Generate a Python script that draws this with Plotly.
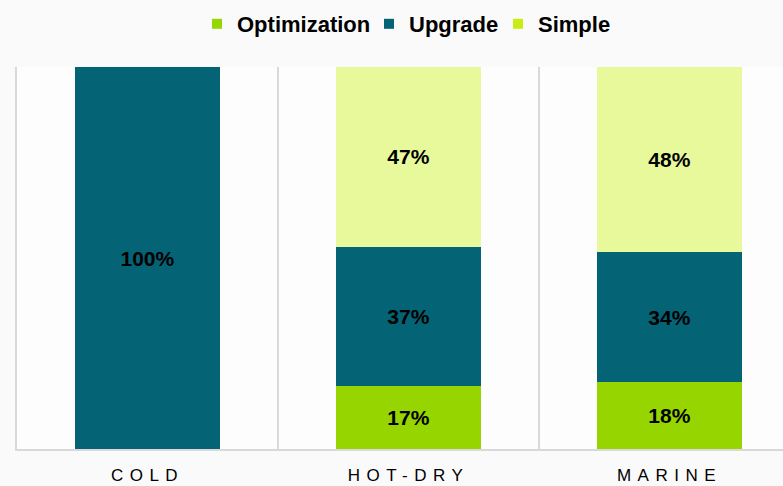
import plotly.graph_objects as go

categories = ["COLD", "HOT-DRY", "MARINE"]
tick_labels = ["COLD", "HOT-DRY", "MARINE"]
series_names = ["Optimization", "Upgrade", "Simple"]
optimization = [0, 16.5, 17.5]
upgrade = [100, 36.5, 34.0]
simple = [0, 47.0, 48.5]
optimization_labels = ["", "17%", "18%"]
upgrade_labels = ["100%", "37%", "34%"]
simple_labels = ["", "47%", "48%"]

bar_colors = {"Optimization": "#96D500", "Upgrade": "#056376", "Simple": "#E8F99B"}
legend_colors = {"Optimization": "#97D700", "Upgrade": "#056376", "Simple": "#C8EC14"}
legend_ids = {"Optimization": "legend", "Upgrade": "legend2", "Simple": "legend3"}
legend_x = {"Optimization": 197, "Upgrade": 369, "Simple": 498}

FONT = "Liberation Sans, Arial, sans-serif"

fig = go.Figure()
for name, vals, labels in [("Optimization", optimization, optimization_labels),
                           ("Upgrade", upgrade, upgrade_labels),
                           ("Simple", simple, simple_labels)]:
    fig.add_trace(go.Bar(
        x=categories, y=vals, name=name, text=labels,
        texttemplate="%{text}", textposition="inside", insidetextanchor="middle",
        textangle=0,
        insidetextfont=dict(family=FONT, size=21, color="#000000", weight="bold"),
        marker=dict(color=bar_colors[name], line=dict(width=0)),
        showlegend=False, hoverinfo="skip",
    ))

# legend entries with the swatch colours of the reference legend
for name in series_names:
    fig.add_trace(go.Scatter(
        x=[None], y=[None], name=name, mode="markers",
        marker=dict(color=legend_colors[name], symbol="square", size=10, line=dict(width=0)),
        showlegend=True, legend=legend_ids[name],
    ))

legend_common = dict(
    orientation="h", xref="container", xanchor="left",
    yref="container", y=1 - 24 / 486, yanchor="middle",
    font=dict(family=FONT, size=22, color="#000000", weight="bold"),
    itemclick=False, bgcolor="rgba(0,0,0,0)", borderwidth=0,
)

spaced = ['<span style="letter-spacing:6.5px">%s</span>' % t for t in tick_labels]

fig.update_layout(
    width=783, height=486,
    barmode="stack", bargap=0.444,
    margin=dict(l=17, r=0, t=67, b=37),
    paper_bgcolor="#FAFAFA", plot_bgcolor="#FDFDFD",
    font=dict(family=FONT, color="#000000"),
    legend=dict(x=legend_x["Optimization"] / 783, **legend_common),
    legend2=dict(x=legend_x["Upgrade"] / 783, **legend_common),
    legend3=dict(x=legend_x["Simple"] / 783, **legend_common),
    xaxis=dict(
        type="category", categoryorder="array", categoryarray=categories,
        tickmode="array", tickvals=categories, ticktext=spaced,
        range=[-0.5, 2.5 - 17 / 261],
        tickson="boundaries", ticks="",
        showgrid=True, gridcolor="#D9D9D9", gridwidth=1.5,
        showline=True, linecolor="#D9D9D9", linewidth=2,
        tickfont=dict(family=FONT, size=17, color="#000000"),
        ticklabelstandoff=10,
        fixedrange=True,
    ),
    yaxis=dict(
        range=[0, 100], visible=True, showticklabels=False, ticks="",
        showgrid=False, zeroline=False,
        showline=True, linecolor="#D9D9D9", linewidth=2,
        fixedrange=True,
    ),
)

fig.write_html("out.html", config={"displayModeBar": False},
               post_script="document.body.style.margin='0';")
